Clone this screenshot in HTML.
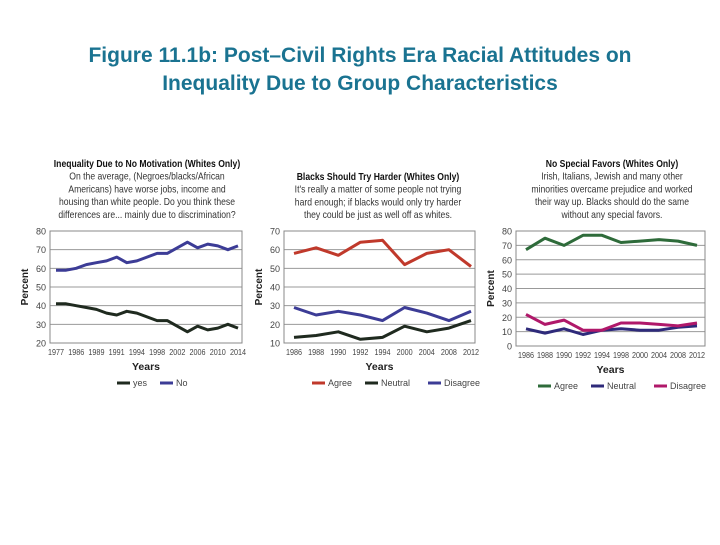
<!DOCTYPE html>
<html><head><meta charset="utf-8"><style>
body{margin:0;background:#fff;width:720px;height:540px;overflow:hidden;font-family:"Liberation Sans",sans-serif}
</style></head><body>
<svg width="720" height="540" xmlns="http://www.w3.org/2000/svg">
<g fill="#1a7391" font-weight="bold" font-size="21" text-anchor="middle">
<text x="360" y="62">Figure 11.1b: Post–Civil Rights Era Racial Attitudes on</text>
<text x="360" y="90">Inequality Due to Group Characteristics</text>
</g>
<g id="charts"></g>
</svg>
<script>
// Chart 1
const c1Ticks = ["1977","1986","1989","1991","1994","1998","2002","2006","2010","2014"];
const c1No = [59,59,60,62,63,64,66,63,64,66,68,68,71,74,71,73,72,70,72];
const c1Yes = [41,41,40,39,38,36,35,37,36,34,32,32,29,26,29,27,28,30,28];
// Chart 2
const c2Ticks = ["1986","1988","1990","1992","1994","2000","2004","2008","2012"];
const c2Agree = [58,61,57,64,65,52,58,60,51];
const c2Neutral = [13,14,16,12,13,19,16,18,22];
const c2Disagree = [29,25,27,25,22,29,26,22,27];
// Chart 3
const c3Ticks = ["1986","1988","1990","1992","1994","1998","2000","2004","2008","2012"];
const c3Agree = [67,75,70,77,77,72,73,74,73,70];
const c3Neutral = [12,9,12,8,11,12,11,11,13,14];
const c3Disagree = [22,15,18,11,11,16,16,15,14,16];

const NS="http://www.w3.org/2000/svg";
const root=document.getElementById('charts');
function mk(tag,attrs,parent,text){const e=document.createElementNS(NS,tag);for(const k in attrs)e.setAttribute(k,attrs[k]);if(text!==undefined)e.textContent=text;parent.appendChild(e);return e;}

function chart(cfg){
  const g=mk('g',{},root);
  
  
  const {x0,x1,y0,y1,min,max,step,dx0,dx1}=cfg;
  const ys=v=>y1-(v-min)/(max-min)*(y1-y0);
  // title block
  const tb=mk('g',{'text-anchor':'middle','font-size':'10.5',fill:'#333'},g);
  
  
  cfg.lines.forEach((t,i)=>{const e=mk('text',{x:cfg.cx,y:cfg.ty+i*12.7,'font-weight':i==0?'bold':'normal',fill:i==0?'#111':'#333',transform:`translate(${cfg.cx},0) scale(0.82,1) translate(${-cfg.cx},0)`},tb,t);});
  // gridlines
  for(let v=min;v<=max;v+=step){
    const l=mk('line',{x1:x0,x2:x1,y1:ys(v),y2:ys(v),stroke:'#999','stroke-width':1},g);
    
    
    const t=mk('text',{x:x0-4,y:ys(v)+3.5,'font-size':'9','text-anchor':'end',fill:'#444'},g,String(v));
    
    
  }
  const box=mk('rect',{x:x0,y:y0,width:x1-x0,height:y1-y0,fill:'none',stroke:'#888','stroke-width':1},g);
  
  
  // x ticks
  const n=cfg.ticks.length;
  cfg.ticks.forEach((t,i)=>{
    const x=dx0+(dx1-dx0)*i/(n-1);
    const e=mk('text',{x:x,y:y1+12,'font-size':'8.5','text-anchor':'middle',fill:'#444',transform:`translate(${x},0) scale(0.85,1) translate(${-x},0)`},g,t);
    
    
  });
  const yt=mk('text',{x:0,y:0,'font-size':'10','font-weight':'bold','text-anchor':'middle',fill:'#222',transform:`translate(${x0-22},${(y0+y1)/2}) rotate(-90)`},g,'Percent');
  
  
  const xt=mk('text',{x:(x0+x1)/2,y:y1+27,'font-size':'10.5','font-weight':'bold','text-anchor':'middle',fill:'#222'},g,'Years');
  
  
  // series
  cfg.series.forEach(s=>{
    const m=s.data.length;
    const pts=s.data.map((v,i)=>[(dx0+(dx1-dx0)*i/(m-1)).toFixed(1),ys(v).toFixed(1)].join(',')).join(' ');
    const p=mk('polyline',{points:pts,fill:'none',stroke:s.color,'stroke-width':3,'stroke-linejoin':'round'},g);
    
    
  });
  // legend
  let lx=cfg.legX;
  cfg.series.slice().sort((a,b)=>a.lo-b.lo).forEach(s=>{
    const lg=mk('g',{},g);
    
    
    mk('line',{x1:lx,x2:lx+13,y1:y1+40,y2:y1+40,stroke:s.color,'stroke-width':3},lg);
    mk('text',{x:lx+16,y:y1+43,'font-size':'9',fill:'#444'},lg,s.label);
    lx+=16+s.label.length*5+12;
  });
}

chart({name:'chart-no-motivation',x0:50,x1:242,y0:231,y1:343,min:20,max:80,step:10,dx0:56,dx1:238,cx:147,ty:167,
  lines:["Inequality Due to No Motivation (Whites Only)","On the average, (Negroes/blacks/African","Americans) have worse jobs, income and","housing than white people. Do you think these","differences are... mainly due to discrimination?"],
  ticks:c1Ticks,legX:117,
  series:[{label:'yes',data:c1Yes,color:'#1f2a1f',lo:0},{label:'No',data:c1No,color:'#3c3c96',lo:1}]});

chart({name:'chart-try-harder',x0:284,x1:475,y0:231,y1:343,min:10,max:70,step:10,dx0:294,dx1:471,cx:378,ty:180,
  lines:["Blacks Should Try Harder (Whites Only)","It's really a matter of some people not trying","hard enough; if blacks would only try harder","they could be just as well off as whites."],
  ticks:c2Ticks,legX:312,
  series:[{label:'Agree',data:c2Agree,color:'#c0392b',lo:0},{label:'Neutral',data:c2Neutral,color:'#1f2a1f',lo:1},{label:'Disagree',data:c2Disagree,color:'#3c3c96',lo:2}]});

chart({name:'chart-no-special-favors',x0:516,x1:705,y0:231,y1:346,min:0,max:80,step:10,dx0:526,dx1:697,cx:612,ty:167,
  lines:["No Special Favors (Whites Only)","Irish, Italians, Jewish and many other","minorities overcame prejudice and worked","their way up. Blacks should do the same","without any special favors."],
  ticks:c3Ticks,legX:538,
  series:[{label:'Agree',data:c3Agree,color:'#2e6b3a',lo:0},{label:'Neutral',data:c3Neutral,color:'#2e2a7a',lo:1},{label:'Disagree',data:c3Disagree,color:'#b0186a',lo:2}]});
</script>
</body></html>
